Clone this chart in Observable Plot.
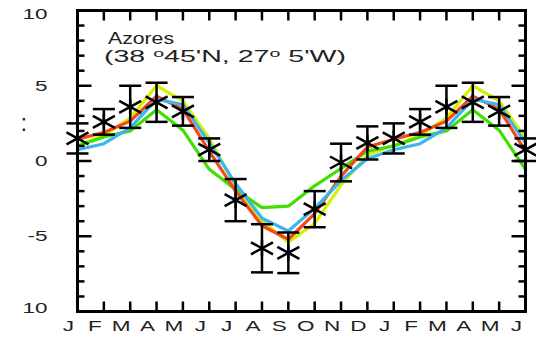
<!DOCTYPE html>
<html>
<head>
<meta charset="utf-8">
<script src="https://cdn.jsdelivr.net/npm/d3@7"></script>
<script src="https://cdn.jsdelivr.net/npm/@observablehq/plot@0.6"></script>
<style>
  body { margin: 0; background: #fff; }
  #chart svg { display: block; }
</style>
</head>
<body>
<div id="chart"></div>
<script>
// Monthly anomalies for the Azores, shown over 18 months (Jan .. Jun of the next year)
const months = ["J","F","M","A","M","J","J","A","S","O","N","D","J","F","M","A","M","J"];

// Observations (asterisks) and their spread (± error bars)
const observed    = [1.5, 2.6, 3.6, 3.9, 3.3, 0.75, -2.6, -5.8, -6.1, -3.2, -0.1, 1.2, 1.5, 2.6, 3.6, 3.9, 3.3, 0.75];
const observedErr = [1.0, 0.85, 1.4, 1.3, 0.95, 0.75, 1.4, 1.6, 1.35, 1.2, 1.25, 1.1, 1.0, 0.85, 1.4, 1.3, 0.95, 0.75];

// Model curves
const yellowRun = [1.05, 1.7, 2.85, 5.0, 4.0, 1.5, -1.7, -4.0, -5.4, -4.15, -1.6, 0.4, 1.05, 1.7, 2.85, 5.0, 4.0, 1.5];
const redRun    = [1.45, 1.9, 2.65, 4.3, 3.45, 0.65, -2.0, -4.3, -5.2, -3.5, -1.0, 0.93, 1.45, 1.9, 2.65, 4.3, 3.45, 0.65];
const blueRun   = [0.75, 1.15, 2.2, 4.1, 3.75, 1.2, -1.5, -3.8, -4.65, -3.15, -1.3, 0.15, 0.75, 1.15, 2.2, 4.1, 3.75, 1.2];
const greenRun  = [1.0, 1.6, 2.0, 3.4, 2.05, -0.55, -1.9, -3.1, -3.0, -1.65, -0.5, 0.66, 1.0, 1.6, 2.0, 3.4, 2.05, -0.55];

const yInnerTicks = [-5, 0, 5];
const yInnerLabels = ["-5", "0", "5"];
const yTopLabel = "10";
const yBottomLabel = "10";

const titleLine = "Azores";

// ---- table built from the arrays
const rows = months.map((m, i) => ({
  i, m,
  obs: observed[i], lo: observed[i] - observedErr[i], hi: observed[i] + observedErr[i],
  yellow: yellowRun[i], red: redRun[i], blue: blueRun[i], green: greenRun[i]
}));

// ---- custom glyphs
const asterisk = {draw(c) {
  c.moveTo(0, -8); c.lineTo(0, 8);
  c.moveTo(-11, -6); c.lineTo(11, 6);
  c.moveTo(-11, 6); c.lineTo(11, -6);
}};
const cap = {draw(c) { c.moveTo(-11, 0); c.lineTo(11, 0); }};
const hTick = len => ({draw(c) { c.moveTo(0, 0); c.lineTo(len, 0); }});
const vTick = len => ({draw(c) { c.moveTo(0, 0); c.lineTo(0, len); }});

const yMinor = d3.range(-9, 10).filter(v => v % 5 !== 0);
const yMajor = [-5, 0, 5];
const xIdx = d3.range(1, months.length - 1);

const line = (key, color) => Plot.line(rows, {x: "i", y: key, stroke: color, strokeWidth: 3.2, strokeLinejoin: "miter"});
const blackDot = (data, opts) => Plot.dot(data, {fill: "none", stroke: "#000", strokeWidth: 2.5, ...opts});

const chart = Plot.plot({
  width: 536,
  height: 337,
  marginLeft: 77,
  marginRight: 11,
  marginTop: 10,
  marginBottom: 26,
  style: {fontFamily: "'Liberation Sans', Arial, sans-serif", fontSize: "15px", background: "#fff", color: "#000"},
  x: {domain: [0, months.length - 1]},
  y: {domain: [-10, 10]},
  marks: [
    // colored model curves
    line("yellow", "#d6f000"),
    line("green", "#3fe000"),
    line("red", "#f2481a"),
    line("blue", "#3cb4f0"),
    // observations with error bars
    Plot.ruleX(rows, {x: "i", y1: "lo", y2: "hi", stroke: "#000", strokeWidth: 2.5}),
    blackDot(rows, {x: "i", y: "lo", symbol: cap}),
    blackDot(rows, {x: "i", y: "hi", symbol: cap}),
    blackDot(rows, {x: "i", y: "obs", symbol: asterisk}),
    // inward ticks on the four sides
    blackDot(yMinor, {x: 0, y: d => d, symbol: hTick(7)}),
    blackDot(yMajor, {x: 0, y: d => d, symbol: hTick(14)}),
    blackDot(yMinor, {x: months.length - 1, y: d => d, symbol: hTick(-7)}),
    blackDot(yMajor, {x: months.length - 1, y: d => d, symbol: hTick(-14)}),
    blackDot(xIdx, {x: d => d, y: 10, symbol: vTick(10)}),
    blackDot(xIdx, {x: d => d, y: -10, symbol: vTick(-10)}),
    Plot.frame({stroke: "#000", strokeWidth: 3}),
    // axis labels
    Plot.axisX({anchor: "bottom", ticks: d3.range(months.length), tickSize: 0, tickPadding: 9, dx: -9,
                tickFormat: i => months[i], fill: "#222", label: null}),
    Plot.axisY({anchor: "left", ticks: yInnerTicks, tickSize: 0, tickPadding: 30,
                tickFormat: d => yInnerLabels[yInnerTicks.indexOf(d)], fill: "#222", label: null}),
    Plot.axisY({anchor: "left", ticks: [10], tickSize: 0, tickPadding: 30, dy: 4,
                tickFormat: () => yTopLabel, fill: "#222", label: null}),
    Plot.axisY({anchor: "left", ticks: [-10], tickSize: 0, tickPadding: 30, dy: -3,
                tickFormat: () => yBottomLabel, fill: "#222", label: null}),
    Plot.text([":"], {frameAnchor: "top-left", dx: -57, dy: 103, fontSize: 24, fill: "#222"})
  ]
});

document.getElementById("chart").appendChild(chart);

// The lettering is set wide: stretch each label horizontally about its anchor
const STRETCH = 1.5;
chart.querySelectorAll("text").forEach(t => {
  if (t.textContent === ":") return;
  const w = t.getComputedTextLength();
  t.setAttribute("textLength", (w * STRETCH).toFixed(1));
  t.setAttribute("lengthAdjust", "spacingAndGlyphs");
});

// Station name and coordinates
const svg = d3.select(chart);
svg.append("text")
  .attr("x", 108).attr("y", 44)
  .attr("text-anchor", "start")
  .attr("font-size", 17).attr("fill", "#222")
  .attr("textLength", 66).attr("lengthAdjust", "spacingAndGlyphs")
  .text(titleLine);
const coord = svg.append("text")
  .attr("x", 104).attr("y", 62)
  .attr("text-anchor", "start")
  .attr("font-size", 16).attr("fill", "#222")
  .attr("textLength", 242).attr("lengthAdjust", "spacingAndGlyphs");
coord.append("tspan").text("(38 ");
coord.append("tspan").attr("font-size", 11).attr("dy", -5).text("o");
coord.append("tspan").attr("dy", 5).text("45'N, 27");
coord.append("tspan").attr("font-size", 11).attr("dy", -5).text("o");
coord.append("tspan").attr("dy", 5).text(" 5'W)");
</script>
</body>
</html>
